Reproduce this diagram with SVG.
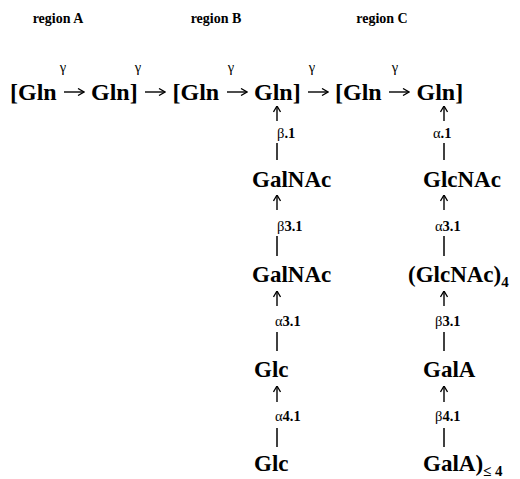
<svg xmlns="http://www.w3.org/2000/svg" width="520" height="479" viewBox="0 0 520 479">
<defs>
<style>
.n{font-family:"Liberation Serif","Times New Roman",serif;font-weight:bold;font-size:23px;fill:#000}
.t{font-size:24px}
.r{font-family:"Liberation Serif","Times New Roman",serif;font-weight:bold;font-size:14px;fill:#000}
.lb{font-family:"Liberation Serif","Times New Roman",serif;font-weight:bold;font-size:14.5px;fill:#000}
.gk{font-weight:normal}
.sub{font-size:15px}
.ln{stroke:#000;stroke-width:1.5;fill:none}
.ar{stroke:#000;stroke-width:1.4;fill:none;marker-end:url(#ah)}
</style>
<marker id="ah" viewBox="0 0 8 8" refX="7.5" refY="4" markerWidth="8" markerHeight="8" markerUnits="userSpaceOnUse" orient="auto">
<path d="M1.5,0.5 L7.5,4 L1.5,7.5" fill="none" stroke="#000" stroke-width="1.3"/>
</marker>
</defs>
<rect width="520" height="479" fill="#fff"/>

<g id="region-labels">
<text class="r" x="58" y="23" text-anchor="middle">region A</text>
<text class="r" x="216" y="23" text-anchor="middle">region B</text>
<text class="r" x="382" y="23" text-anchor="middle">region C</text>
</g>

<g id="A1"><text class="n t" x="10" y="100">[Gln</text></g>
<g id="A2"><text class="n t" x="91" y="100">Gln]</text></g>
<g id="B1"><text class="n t" x="172.5" y="100">[Gln</text></g>
<g id="B2"><text class="n t" x="254" y="100">Gln]</text></g>
<g id="C1"><text class="n t" x="335" y="100">[Gln</text></g>
<g id="C2"><text class="n t" x="416.5" y="100">Gln]</text></g>

<g id="B-GalNAc1"><text class="n" x="252" y="187">GalNAc</text></g>
<g id="B-GalNAc2"><text class="n" x="252" y="282">GalNAc</text></g>
<g id="B-Glc1"><text class="n" x="254" y="377">Glc</text></g>
<g id="B-Glc2"><text class="n" x="254" y="471">Glc</text></g>

<g id="C-GlcNAc"><text class="n" x="423" y="187">GlcNAc</text></g>
<g id="C-GlcNAc4"><text class="n" x="408" y="282">(GlcNAc)<tspan class="sub" dy="5">4</tspan></text></g>
<g id="C-GalA"><text class="n" x="423" y="377">GalA</text></g>
<g id="C-GalA4"><text class="n" x="423" y="471">GalA)<tspan class="sub" dy="5">≤ 4</tspan></text></g>

<g id="connectors">
<path class="ar" d="M64,92 H84"/>
<path class="ar" d="M145,92 H165"/>
<path class="ar" d="M227,92 H247"/>
<path class="ar" d="M308,92 H328"/>
<path class="ar" d="M389,92 H409"/>

<path class="ar" d="M277,121 V106"/>
<path class="ln" d="M277,143 V160"/>
<path class="ar" d="M277,210 V195"/>
<path class="ln" d="M277,236 V256"/>
<path class="ar" d="M277,306 V291"/>
<path class="ln" d="M277,332 V351"/>
<path class="ar" d="M277,402 V386"/>
<path class="ln" d="M277,428 V447"/>

<path class="ar" d="M444,121 V106"/>
<path class="ln" d="M444,143 V160"/>
<path class="ar" d="M444,210 V195"/>
<path class="ln" d="M444,236 V256"/>
<path class="ar" d="M444,306 V291"/>
<path class="ln" d="M444,332 V351"/>
<path class="ar" d="M444,402 V386"/>
<path class="ln" d="M444,428 V447"/>
</g>

<g id="labels">
<text class="lb gk" x="63" y="72" text-anchor="middle">γ</text>
<text class="lb gk" x="138" y="72" text-anchor="middle">γ</text>
<text class="lb gk" x="231" y="72" text-anchor="middle">γ</text>
<text class="lb gk" x="312" y="72" text-anchor="middle">γ</text>
<text class="lb gk" x="395" y="72" text-anchor="middle">γ</text>

<text class="lb" x="277" y="138"><tspan class="gk">β</tspan>.1</text>
<text class="lb" x="277" y="231"><tspan class="gk">β</tspan>3.1</text>
<text class="lb" x="275" y="326"><tspan class="gk">α</tspan>3.1</text>
<text class="lb" x="275" y="421"><tspan class="gk">α</tspan>4.1</text>

<text class="lb" x="433" y="138"><tspan class="gk">α</tspan>.1</text>
<text class="lb" x="435" y="231"><tspan class="gk">α</tspan>3.1</text>
<text class="lb" x="435" y="326"><tspan class="gk">β</tspan>3.1</text>
<text class="lb" x="435" y="421"><tspan class="gk">β</tspan>4.1</text>
</g>
</svg>
